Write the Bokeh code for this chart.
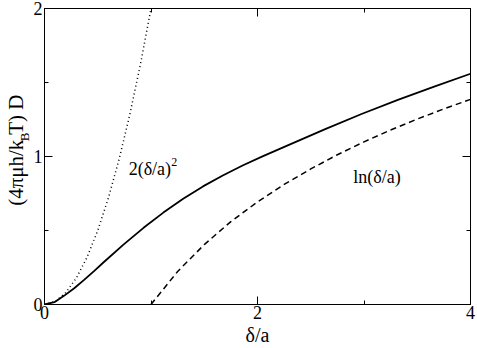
import math
from bokeh.plotting import figure
from bokeh.layouts import row
from bokeh.models import Range1d, FixedTicker, LinearAxis, Label
from bokeh.core.properties import value
from bokeh.embed import file_html
from bokeh.resources import INLINE

# exact D (solid)
x_exact = [0, 0.093, 0.186, 0.279, 0.372, 0.465, 0.558, 0.744, 0.93, 1.116, 1.302, 1.488,
           1.674, 1.86, 2.047, 2.295, 2.636, 2.977, 3.318, 3.659, 4.0]
y_exact = [0, 0.016, 0.06, 0.11, 0.166, 0.226, 0.287, 0.406, 0.518, 0.621, 0.714, 0.798,
           0.872, 0.939, 1.001, 1.079, 1.185, 1.287, 1.382, 1.472, 1.559]

# small-gap asymptote 2(δ/a)^2 (dotted)
x_small = [0, 0.1, 0.2, 0.3, 0.4, 0.5, 0.6, 0.7, 0.8, 0.9, 1.0]
y_small = [0, 0.02, 0.08, 0.18, 0.32, 0.5, 0.72, 0.98, 1.28, 1.62, 2.0]

# large-gap asymptote ln(δ/a) (dashed)
x_large = [1.0, 1.25, 1.5, 1.75, 2.0, 2.25, 2.5, 2.75, 3.0, 3.25, 3.5, 3.75, 4.0]
y_large = [0, 0.223, 0.405, 0.56, 0.693, 0.811, 0.916, 1.012, 1.099, 1.179, 1.253, 1.322, 1.386]

x_ticks = [0, 2, 4]
x_minor = [1, 3]
y_ticks = [0, 1, 2]
y_minor = [0.5, 1.5]

FONT = "Liberation Serif"
W = 477
H = 348
W_T = 30         # strip holding the y-axis title

# ---------------- main plot ----------------
p = figure(width=W - W_T, height=H, output_backend="svg", toolbar_location=None,
           x_range=Range1d(0, 4), y_range=Range1d(0, 2),
           min_border_left=11, min_border_right=7, min_border_top=8, min_border_bottom=38)
p.grid.visible = False
p.outline_line_color = "black"
p.background_fill_color = "white"
p.border_fill_color = "white"

def style_axis(ax, ticks, minor):
    ax.ticker = FixedTicker(ticks=ticks, minor_ticks=minor)
    ax.axis_line_color = "black"
    ax.major_tick_line_color = "black"
    ax.minor_tick_line_color = "black"
    ax.major_tick_in = 8
    ax.major_tick_out = 0
    ax.minor_tick_in = 4
    ax.minor_tick_out = 0
    ax.major_label_text_font = FONT
    ax.major_label_text_font_size = "18px"
    ax.major_label_text_color = "black"

style_axis(p.xaxis[0], x_ticks, x_minor)
style_axis(p.yaxis[0], y_ticks, y_minor)
p.xaxis[0].major_label_standoff = 1
p.yaxis[0].major_label_standoff = 2
p.xaxis[0].axis_label = "δ/a"
p.xaxis[0].axis_label_text_font = FONT
p.xaxis[0].axis_label_text_font_size = "20px"
p.xaxis[0].axis_label_text_font_style = "normal"
p.xaxis[0].axis_label_text_color = "black"
p.xaxis[0].axis_label_standoff = 2

# mirrored tick marks (no labels) on top and right: long marks at major, short at minor
def tick_only_axis(positions, length):
    ax = LinearAxis(ticker=FixedTicker(ticks=[], minor_ticks=positions))
    ax.axis_line_color = "black"
    ax.minor_tick_line_color = "black"
    ax.minor_tick_in = length
    ax.minor_tick_out = 0
    ax.major_tick_in = 0
    ax.major_tick_out = 0
    ax.major_label_standoff = 0
    ax.axis_label_standoff = 0
    return ax

p.add_layout(tick_only_axis(x_ticks, 8), "above")
p.add_layout(tick_only_axis(x_minor, 4), "above")
p.add_layout(tick_only_axis(y_ticks, 8), "right")
p.add_layout(tick_only_axis(y_minor, 4), "right")

p.line(x_exact, y_exact, line_color="black", line_width=1.8)
p.line(x_small, y_small, line_color="black", line_width=1.5, line_dash="1 3")
p.line(x_large, y_large, line_color="black", line_width=1.5, line_dash="6 4")

# curve annotations
p.add_layout(Label(x=0.79, y=0.914, text="2(δ/a)", text_font=FONT, text_font_size="18px",
                   text_baseline="alphabetic", text_align="left", text_color="black"))
p.add_layout(Label(x=1.19, y=0.962, text="2", text_font=FONT, text_font_size="12px",
                   text_baseline="alphabetic", text_align="left", text_color="black"))
p.add_layout(Label(x=2.90, y=0.86, text="ln(δ/a)", text_font=FONT, text_font_size="18px",
                   text_baseline="alphabetic", text_align="left", text_color="black"))

# ---------------- y-axis title strip ----------------
t = figure(width=W_T, height=H, output_backend="svg", toolbar_location=None,
           x_range=Range1d(0, W_T), y_range=Range1d(0, H),
           x_axis_type=None, y_axis_type=None, min_border=0)
t.grid.visible = False
t.outline_line_color = None
t.background_fill_color = "white"
t.border_fill_color = "white"

title_main = "(4πμh/k  T) D"   # gap left for the subscript
title_sub = "B"
y_start = 116.0
len_before_sub = 76.0
t.text(x=[15], y=[y_start], text=[title_main], angle=math.pi / 2,
       text_font=value(FONT), text_font_size=value("21px"),
       text_baseline="alphabetic", text_align="left", text_color="black")
t.text(x=[23.5], y=[y_start + len_before_sub], text=[title_sub], angle=math.pi / 2,
       text_font=value(FONT), text_font_size=value("13px"),
       text_baseline="alphabetic", text_align="left", text_color="black")

layout = row(t, p)
open("out.html", "w").write(file_html(layout, INLINE))
